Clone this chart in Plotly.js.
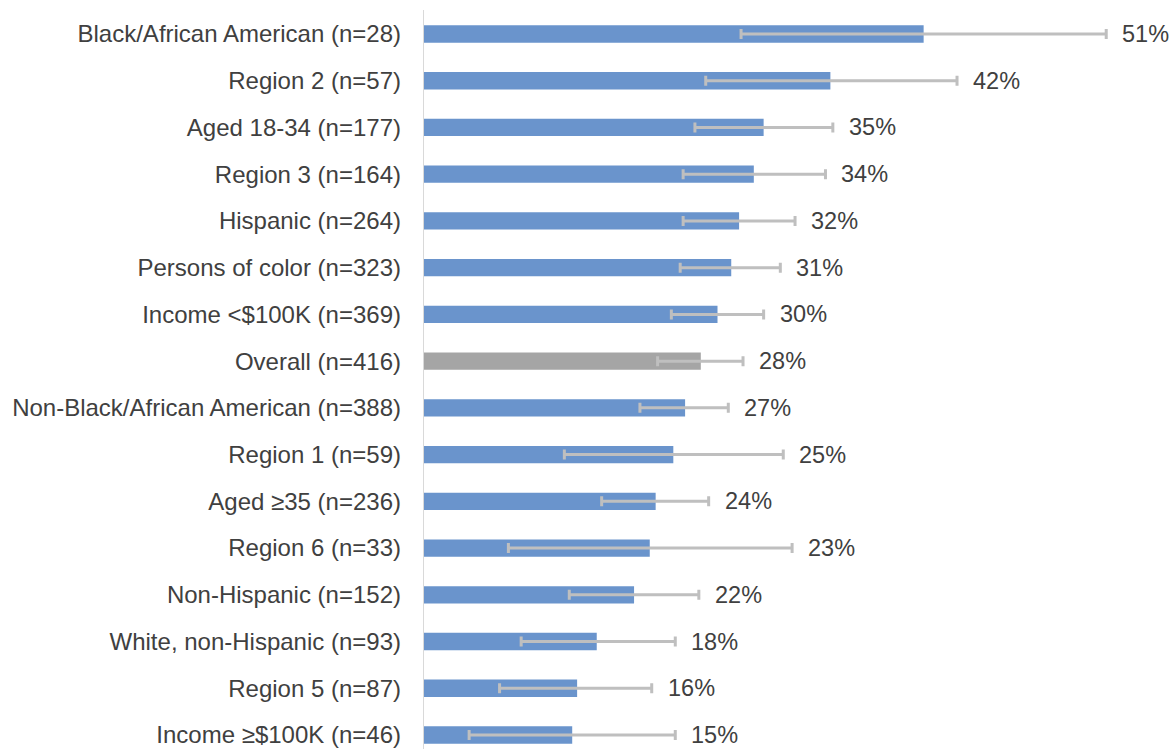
<!DOCTYPE html>
<html>
<head>
<meta charset="utf-8">
<script src="https://cdn.plot.ly/plotly-3.0.1.min.js"></script>
<style>html,body{margin:0;padding:0;background:#fff;}#chart{width:1172px;height:749px;}</style>
</head>
<body>
<div id="chart"></div>
<script>
const categories = [
  "Black/African American (n=28)",
  "Region 2 (n=57)",
  "Aged 18-34 (n=177)",
  "Region 3 (n=164)",
  "Hispanic (n=264)",
  "Persons of color (n=323)",
  "Income <$100K (n=369)",
  "Overall (n=416)",
  "Non-Black/African American (n=388)",
  "Region 1 (n=59)",
  "Aged ≥35 (n=236)",
  "Region 6 (n=33)",
  "Non-Hispanic (n=152)",
  "White, non-Hispanic (n=93)",
  "Region 5 (n=87)",
  "Income ≥$100K (n=46)"
];
const values = [51.0, 41.5, 34.7, 33.7, 32.2, 31.4, 30.0, 28.3, 26.7, 25.5, 23.7, 23.1, 21.5, 17.7, 15.7, 15.2];
const lowerCI = [32.4, 28.8, 27.7, 26.5, 26.5, 26.2, 25.3, 23.9, 22.1, 14.4, 18.2, 8.7, 14.9, 10.0, 7.8, 4.7];
const upperCI = [69.6, 54.4, 41.75, 41.0, 37.9, 36.4, 34.7, 32.6, 31.1, 36.7, 29.1, 37.6, 28.1, 25.7, 23.3, 25.7];
const valueLabels = ["51%","42%","35%","34%","32%","31%","30%","28%","27%","25%","24%","23%","22%","18%","16%","15%"];

const barColors = categories.map(c => c.startsWith("Overall") ? "#a5a5a5" : "#6a94cc");

const trace = {
  type: "bar",
  orientation: "h",
  y: categories,
  x: values,
  marker: { color: barColors, line: { width: 0 } },
  error_x: {
    type: "data",
    symmetric: false,
    array: upperCI.map((u, i) => u - values[i]),
    arrayminus: values.map((v, i) => v - lowerCI[i]),
    color: "#bfbfbf",
    thickness: 3,
    width: 5
  },
  hoverinfo: "none"
};

const annotations = categories.map((c, i) => ({
  x: upperCI[i],
  y: c,
  xref: "x",
  yref: "y",
  text: valueLabels[i],
  showarrow: false,
  xanchor: "left",
  yanchor: "middle",
  xshift: 14,
  font: { family: "Liberation Sans, Arial, sans-serif", size: 23.5, color: "#404040" }
}));

const layout = {
  width: 1172,
  height: 749,
  margin: { l: 423, r: 0, t: 0, b: 0 },
  paper_bgcolor: "#ffffff",
  plot_bgcolor: "#ffffff",
  showlegend: false,
  bargap: 0.63,
  xaxis: {
    range: [0, 76.3],
    showgrid: false,
    zeroline: false,
    showline: false,
    showticklabels: false,
    ticks: ""
  },
  yaxis: {
    type: "category",
    range: [15.30, -0.7276],
    showgrid: false,
    zeroline: false,
    showline: false,
    ticks: "",
    ticklabelstandoff: 21,
    tickfont: { family: "Liberation Sans, Arial, sans-serif", size: 24, color: "#404040" }
  },
  shapes: [{
    type: "line",
    xref: "x", yref: "paper",
    x0: 0, x1: 0, y0: 0, y1: 0.9866,
    line: { color: "#d9d9d9", width: 2 },
    layer: "above"
  }],
  annotations: annotations
};

Plotly.newPlot("chart", [trace], layout, { displayModeBar: false, staticPlot: true });
</script>
</body>
</html>
